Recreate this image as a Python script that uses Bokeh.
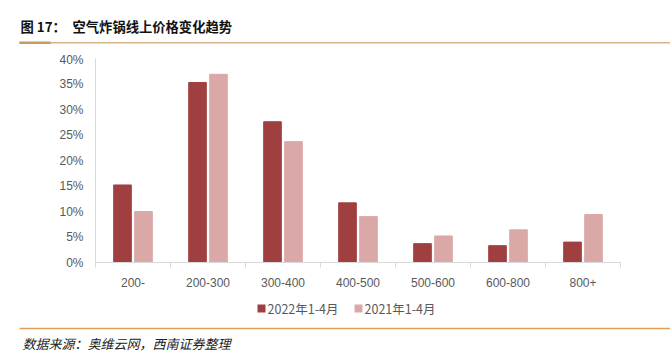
import numpy as np
from bokeh.plotting import figure
from bokeh.layouts import column
from bokeh.models import Range1d, FixedTicker, NumeralTickFormatter, ColumnDataSource
from bokeh.core.properties import value
from bokeh.embed import file_html
from bokeh.resources import INLINE

categories = ["200-", "200-300", "300-400", "400-500", "500-600", "600-800", "800+"]
series_names = ["2022年1-4月", "2021年1-4月"]
values_2022 = [0.152, 0.353, 0.276, 0.117, 0.037, 0.033, 0.040]
values_2021 = [0.100, 0.369, 0.237, 0.090, 0.052, 0.064, 0.094]
y_ticks = [0, 0.05, 0.10, 0.15, 0.20, 0.25, 0.30, 0.35, 0.40]
title_parts = ["图 17：", "空气炸锅线上价格变化趋势"]
source_text = "数据来源：奥维云网，西南证券整理"

W = 670
HA, HB, HC = 52, 248, 57
C1, C2 = "#a03f40", "#dba8a8"
font = "Liberation Sans"
cjk = "Noto Sans CJK SC"


def blank(h):
    f = figure(width=W, height=h, output_backend="svg", toolbar_location=None,
               x_range=Range1d(0, W), y_range=Range1d(h, 0),
               x_axis_location=None, y_axis_location=None,
               min_border=0, min_border_left=0, min_border_right=0,
               min_border_top=0, min_border_bottom=0)
    f.frame_align = False
    f.outline_line_color = None
    f.grid.visible = False
    f.background_fill_color = "white"
    f.border_fill_color = "white"
    return f


# --- header: title + rule
pa = blank(HA)
pa.text(x=[20, 72], y=[26, 26], text=title_parts, text_font=value(cjk), text_font_style="bold",
        text_font_size="13.3px", text_color="#111111", text_baseline="middle", text_align="left")
pa.quad(left=[19], right=[670], top=[41.5], bottom=[43], fill_color="#d4b48a", line_color=None)
pa.quad(left=[19], right=[50], top=[41], bottom=[43.5], fill_color="#c99a5e", line_color=None)

# --- main chart
n = len(categories)
p = figure(width=W, height=HB, output_backend="svg", toolbar_location=None,
           x_range=Range1d(0, n), y_range=Range1d(0, 0.4),
           min_border_left=95, min_border_right=50, min_border_top=6, min_border_bottom=38)
p.frame_align = False
p.outline_line_color = None
p.xgrid.grid_line_color = None
p.ygrid.grid_line_color = None
p.background_fill_color = "white"
p.border_fill_color = "white"

centers = np.arange(n) + 0.5
off = 0.14
bw = 0.235
src = ColumnDataSource(dict(x1=centers - off, x2=centers + off, v1=values_2022, v2=values_2021))
p.vbar(x="x1", top="v1", width=bw, source=src, fill_color=C1, line_color=C1)
p.vbar(x="x2", top="v2", width=bw, source=src, fill_color=C2, line_color=C2)

ya = p.yaxis[0]
ya.ticker = FixedTicker(ticks=y_ticks)
ya.formatter = NumeralTickFormatter(format="0%")
ya.axis_line_color = "#d9d9d9"
ya.major_tick_line_color = None
ya.minor_tick_line_color = None
ya.major_tick_out = 0
ya.major_tick_in = 0
ya.major_label_standoff = 12
ya.major_label_text_font = font
ya.major_label_text_font_size = "12px"
ya.major_label_text_color = "#595959"

xa = p.xaxis[0]
xa.ticker = FixedTicker(ticks=list(centers), minor_ticks=list(range(n + 1)))
xa.major_label_overrides = {float(c): categories[i] for i, c in enumerate(centers)}
xa.axis_line_color = "#d9d9d9"
xa.major_tick_line_color = None
xa.major_tick_out = 0
xa.major_tick_in = 0
xa.minor_tick_line_color = "#d9d9d9"
xa.minor_tick_out = 5
xa.minor_tick_in = 0
xa.major_label_standoff = 10
xa.major_label_text_font = font
xa.major_label_text_font_size = "12px"
xa.major_label_text_color = "#595959"

# --- footer: legend + rule + source
pc = blank(HC)
pc.quad(left=[257, 354], right=[265, 362], top=[4, 4], bottom=[12, 12],
        fill_color=[C1, C2], line_color=None)
pc.text(x=[267, 364], y=[8, 8], text=series_names, text_font=value(cjk),
        text_font_size="12.5px", text_color="#595959", text_baseline="middle", text_align="left")
pc.quad(left=[19], right=[670], top=[27.3], bottom=[28.8], fill_color="#e0a050", line_color=None)
pc.text(x=[22], y=[43], text=[source_text], text_font=value(cjk), text_font_style="italic",
        text_font_size="13px", text_color="#222222", text_baseline="middle", text_align="left")

layout = column(pa, p, pc, spacing=0)
open("out.html", "w").write(file_html(layout, INLINE))
